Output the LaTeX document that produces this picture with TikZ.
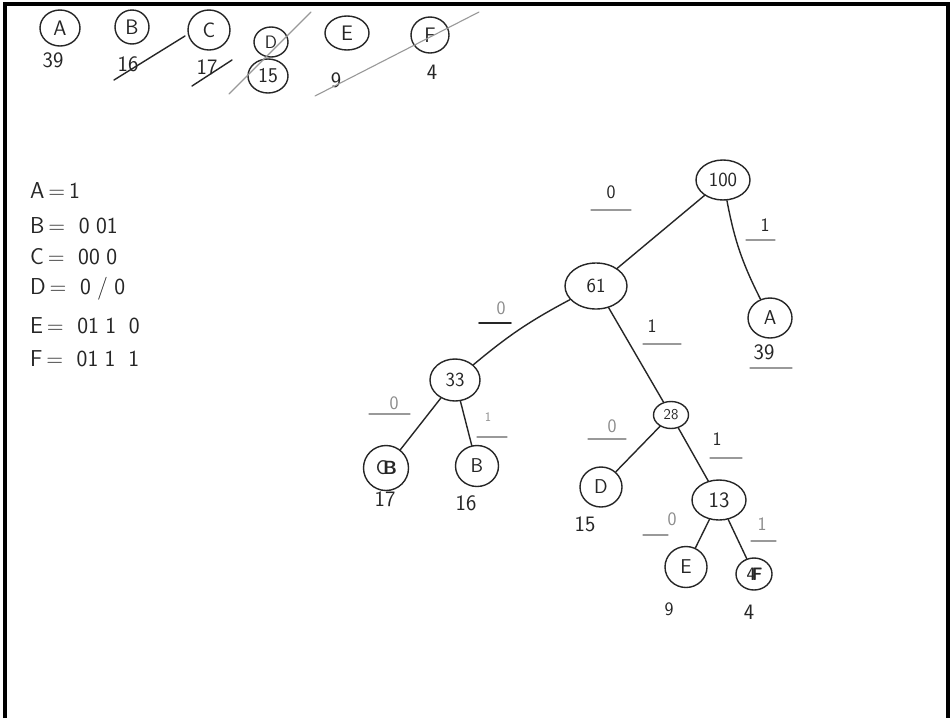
\documentclass[tikz,border=0pt]{standalone}
\usetikzlibrary{shapes.geometric}
\begin{document}
\begin{tikzpicture}[x=1pt,y=-1pt,
  pen/.style={line width=1.4pt, draw=black!85, line cap=round},
  faint/.style={line width=1.1pt, draw=black!40, line cap=round},
  nd/.style 2 args={ellipse, draw=black!85, line width=1.4pt, inner sep=0pt,
    minimum width=#1pt, minimum height=#2pt, font=\sffamily\fontsize{20}{24}\selectfont, text=black!85},
  txt/.style={inner sep=0pt, font=\sffamily\fontsize{19}{23}\selectfont, text=black!85},
  big/.style={inner sep=0pt, font=\sffamily\fontsize{22}{26}\selectfont, text=black!85},
  lbl/.style={inner sep=0pt, font=\sffamily\fontsize{19}{23}\selectfont, text=black!85},
  glbl/.style={inner sep=0pt, font=\sffamily\fontsize{19}{23}\selectfont, text=black!45},
  code/.style={anchor=west, inner sep=0pt, font=\sffamily\fontsize{23}{27}\selectfont, text=black!85}]
\useasboundingbox (0,0) rectangle (952,718);
\fill[white] (0,0) rectangle (952,718);
% frame
\draw[line width=4pt, black] (5,718) -- (5,4) -- (948,4) -- (948,718);

% ---- top row of symbols ----
\node[nd={40}{36}, font=\sffamily\fontsize{21}{25}\selectfont] (tA) at (60,28) {A};
\node[big] (w39) at (53,60) {39};
\node[nd={34}{34}, font=\sffamily\fontsize{21}{25}\selectfont] (tB) at (132,27) {B};
\node[big] (w16) at (128,64) {16};
\node[nd={42}{40}, font=\sffamily\fontsize{21}{25}\selectfont] (tC) at (209,30) {C};
\node[big] (w17) at (207,67) {17};
\node[nd={34}{30}, font=\sffamily\fontsize{18}{22}\selectfont] (tD) at (271,42) {D};
\node[nd={40}{34}, font=\sffamily\fontsize{21}{25}\selectfont] (w15) at (268,76) {15};
\node[nd={44}{34}, font=\sffamily\fontsize{21}{25}\selectfont] (tE) at (347,33) {E};
\node[big] (w9) at (336,80) {9};
\node[nd={38}{36}, font=\sffamily\fontsize{21}{25}\selectfont] (tF) at (430,35) {F};
\node[big] (w4) at (432,72) {4};
% strike lines
\draw[pen] (114,80) -- (185,36);
\draw[pen] (192,86) -- (232,60);
\draw[faint] (229,94) -- (311,12);
\draw[faint] (315,96) -- (479,12);

% ---- code table ----
\node[code] (cA) at (30,191) {A\,=\,1};
\node[code] (cB) at (30,226) {B\,=\; 0\;01};
\node[code] (cC) at (30,257) {C\,=\; 00\;0};
\node[code] (cD) at (30,289) {D\,=\; 0\;/\;0};
\node[code] (cE) at (30,326) {E\,=\; 01\;1\;\;0};
\node[code] (cF) at (30,359) {F\,=\; 01\;1\;\;1};

% ---- tree ----
\node[nd={54}{40}] (n100) at (723,180) {100};
\node[nd={44}{40}] (nA) at (770,318) {A};
\node[big] (l39) at (764,352) {39};
\node[nd={62}{46}] (n61) at (596,286) {61};
\node[nd={50}{42}] (n33) at (455,380) {33};
\node[nd={35}{27}, font=\sffamily\fontsize{15}{18}\selectfont] (n28) at (671,415) {28};
\node[nd={45}{45}] (nC) at (386,468) {};
\node[lbl, font=\sffamily\fontsize{20}{24}\selectfont] (nCc) at (382,468) {C};
\node[lbl, font=\sffamily\bfseries\fontsize{19}{23}\selectfont] (nCb) at (390,468) {B};
\node[big] (l17) at (385,499) {17};
\node[nd={43}{41}] (nB) at (477,466) {B};
\node[big] (l16) at (466,503) {16};
\node[nd={42}{40}] (nD) at (601,487) {D};
\node[big] (l15) at (585,524) {15};
\node[nd={54}{40}, font=\sffamily\fontsize{22}{26}\selectfont] (n13) at (719,500) {13};
\node[nd={42}{41}] (nE) at (686,567) {E};
\node[txt] (l9) at (669,609) {9};
\node[nd={36}{32}] (nF) at (754,574) {};
\node[lbl] (nF4) at (751,574) {4};
\node[lbl, font=\sffamily\bfseries\fontsize{18}{22}\selectfont] (nFf) at (757,574) {F};
\node[big] (l4) at (749,612) {4};

% edges
\draw[pen] (n100) -- (n61);
\draw[pen] (n100) to[bend right=8] (nA);
\draw[pen] (n61) to[bend right=6] (n33);
\draw[pen] (n61) -- (n28);
\draw[pen] (n33) -- (nC);
\draw[pen] (n33) -- (nB);
\draw[pen] (n28) -- (nD);
\draw[pen] (n28) -- (n13);
\draw[pen] (n13) -- (nE);
\draw[pen] (n13) -- (nF);

% edge labels with underlines
\node[lbl] (e1) at (611,192) {0};
\draw[faint] (591,210) -- (631,210);
\node[lbl] (e2) at (765,225) {1};
\draw[faint] (746,240) -- (775,240);
\draw[faint] (750,368) -- (792,368);
\node[glbl] (e3) at (501,308) {0};
\draw[pen, line width=1.8pt] (479,323) -- (511,323);
\node[lbl] (e4) at (652,326) {1};
\draw[faint] (643,344) -- (681,344);
\node[glbl] (e5) at (394,403) {0};
\draw[faint] (369,414) -- (410,414);
\node[glbl, font=\sffamily\fontsize{13}{15}\selectfont] (e6) at (488,417) {1};
\draw[faint] (477,437) -- (507,437);
\node[glbl] (e7) at (612,426) {0};
\draw[faint] (588,439) -- (626,439);
\node[lbl] (e8) at (717,439) {1};
\draw[faint] (710,458) -- (742,458);
\node[glbl] (e9) at (672,519) {0};
\draw[faint] (643,535) -- (668,535);
\node[glbl] (e10) at (762,524) {1};
\draw[faint] (751,541) -- (776,541);
\end{tikzpicture}
\end{document}
